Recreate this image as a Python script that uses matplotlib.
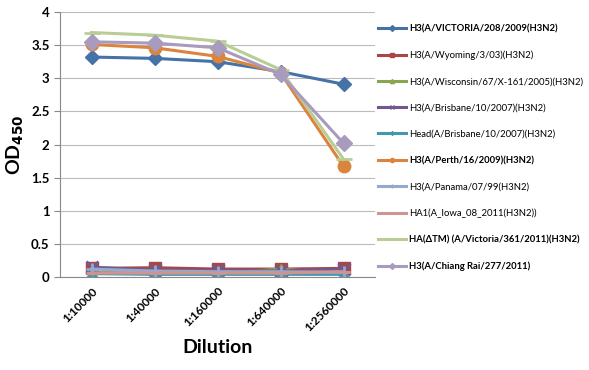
import numpy as np
import matplotlib
matplotlib.use("Agg")
import matplotlib.pyplot as plt

plt.rcParams['font.family'] = ['Lato', 'DejaVu Sans']

dilutions = ["1:10000", "1:40000", "1:160000", "1:640000", "1:2560000"]

victoria_208 = [3.32, 3.30, 3.25, 3.10, 2.91]
wyoming = [0.13, 0.14, 0.12, 0.12, 0.13]
wisconsin = [0.07, 0.06, 0.05, 0.12, 0.05]
brisbane = [0.15, 0.10, 0.10, 0.09, 0.12]
head_brisbane = [0.05, 0.04, 0.04, 0.04, 0.04]
perth = [3.51, 3.46, 3.33, 3.08, 1.67]
panama = [0.12, 0.09, 0.08, 0.08, 0.07]
iowa = [0.06, 0.06, 0.06, 0.06, 0.08]
victoria_361 = [3.69, 3.65, 3.56, 3.13, 1.78]
chiang_rai = [3.55, 3.53, 3.46, 3.06, 2.02]

labels = [
    "H3(A/VICTORIA/208/2009(H3N2)",
    "H3(A/Wyoming/3/03)(H3N2)",
    "H3(A/Wisconsin/67/X-161/2005)(H3N2)",
    "H3(A/Brisbane/10/2007)(H3N2)",
    "Head(A/Brisbane/10/2007)(H3N2)",
    "H3(A/Perth/16/2009)(H3N2)",
    "H3(A/Panama/07/99(H3N2)",
    "HA1(A_Iowa_08_2011(H3N2))",
    "HA(\u0394TM) (A/Victoria/361/2011)(H3N2)",
    "H3(A/Chiang Rai/277/2011)",
]
series = [victoria_208, wyoming, wisconsin, brisbane, head_brisbane,
          perth, panama, iowa, victoria_361, chiang_rai]
bold = [True, False, False, False, False, True, False, False, True, True]

colors = ["#4572A7", "#AA4643", "#89A54E", "#71588F", "#4198AF",
          "#DB843D", "#93A9CF", "#D19392", "#B9CD96", "#A99BBD"]
markers = ["D", "s", "^", "x", (6, 2, 0), "o", "+", "_", "_", "D"]
msizes = [7, 8, 7, 8, 8, 9, 8, 9, 11, 8]

fig = plt.figure(figsize=(5.89, 3.70), dpi=100)
ax = fig.add_axes([60 / 589, 1 - 277 / 370, 315 / 589, 265 / 370])

x = np.arange(len(dilutions))
handles = []
for i, ys in enumerate(series):
    h, = ax.plot(x, ys, color=colors[i], lw=2.2, marker=markers[i],
                 markersize=msizes[i], markeredgewidth=2 if markers[i] in ("x", "+", "_") else 1,
                 markeredgecolor=colors[i], markerfacecolor=colors[i], label=labels[i])
    handles.append(h)

ax.set_xlim(-0.5, 4.5)
ax.set_ylim(0, 4)
ax.set_yticks(np.arange(0, 4.01, 0.5))
ax.set_yticklabels(["0", "0.5", "1", "1.5", "2", "2.5", "3", "3.5", "4"],
                   fontsize=9.5, fontweight='bold')
ax.set_xticks(x)
ax.set_xticklabels(dilutions, rotation=45, ha='right', rotation_mode='anchor',
                   fontsize=8.5, fontweight='bold')
ax.tick_params(axis='x', length=0, pad=6)
ax.tick_params(axis='y', length=4, color="#888888", direction='out')
ax.grid(axis='y', color="#BBBBBB", lw=0.8)
ax.set_axisbelow(True)
for s in ["top", "right"]:
    ax.spines[s].set_visible(False)
ax.spines["left"].set_color("#888888")
ax.spines["bottom"].set_color("#888888")

ax.set_ylabel("OD$_{\\mathbf{450}}$", fontsize=14, fontweight='bold')
ax.set_xlabel("Dilution", fontsize=14, fontweight='bold')

leg_handles = []
for i, h in enumerate(handles):
    lh, = plt.plot([], [], color=colors[i], lw=2.2, marker=markers[i], markersize=3,
                   markeredgecolor=colors[i], markerfacecolor=colors[i])
    leg_handles.append(lh)
leg = fig.legend(leg_handles, labels, loc='upper left',
                 bbox_to_anchor=(378 / 589, 1 - 24 / 370), frameon=False,
                 fontsize=6.8, handlelength=3.0, handletextpad=0.3,
                 labelspacing=1.83, borderpad=0, borderaxespad=0)
for t, b in zip(leg.get_texts(), bold):
    if b:
        t.set_fontweight('bold')

fig.savefig("out.png", dpi=100)
